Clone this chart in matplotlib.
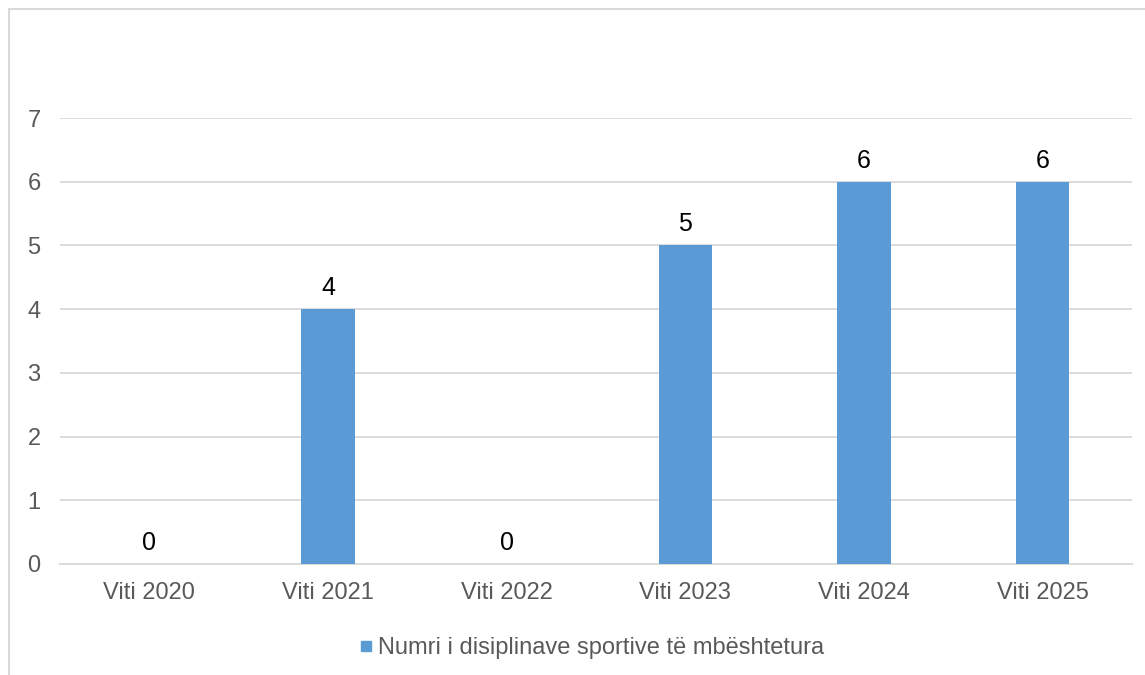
import matplotlib
matplotlib.use('Agg')
import matplotlib.pyplot as plt
from matplotlib.lines import Line2D
from matplotlib.patches import Rectangle

plt.rcParams['font.family'] = ['Liberation Sans', 'DejaVu Sans']

years = ['Viti 2020', 'Viti 2021', 'Viti 2022', 'Viti 2023', 'Viti 2024', 'Viti 2025']
counts = [0, 4, 0, 5, 6, 6]
series_name = 'Numri i disiplinave sportive të mbështetura'

bar_color = '#5b9bd5'
grid_color = '#d9d9d9'
text_gray = '#595959'
fs = 17

fig = plt.figure(figsize=(11.45, 6.75), dpi=100)
ax = fig.add_axes([60 / 1145, 1 - 564 / 675, (1132 - 60) / 1145, (564 - 118) / 675])

x = range(len(years))
bars = ax.bar(x, counts, width=0.30, color=bar_color, zorder=3)

for xi, v in zip(x, counts):
    ax.annotate(str(v), (xi, v), xytext=(0, 6.5), textcoords='offset points',
                ha='center', va='bottom', fontsize=18, color='black')

ax.set_xlim(-0.5, len(years) - 0.5)
ax.set_ylim(0, 7)
ax.set_yticks(range(8))
ax.set_xticks(list(x))
ax.set_xticklabels(years)
ax.yaxis.grid(True, color=grid_color, linewidth=1.3, zorder=0)
ax.tick_params(axis='both', length=0, labelsize=fs, labelcolor=text_gray)
ax.tick_params(axis='y', pad=14)
ax.tick_params(axis='x', pad=13)
for side in ['left', 'right', 'top']:
    ax.spines[side].set_visible(False)
ax.spines['bottom'].set_color(grid_color)
ax.spines['bottom'].set_linewidth(1.3)

handle = Line2D([], [], marker='s', linestyle='none', markersize=7,
                markerfacecolor=bar_color, markeredgecolor=bar_color)
fig.legend([handle], [series_name], loc='center', bbox_to_anchor=(590 / 1145, 1 - 648 / 675),
           frameon=False, fontsize=fs, labelcolor=text_gray, handletextpad=0.1,
           handlelength=0.8)

# outer chart border (cut off on the right and bottom)
fig.patches.append(Rectangle((9 / 1145, -0.2), 2, 1.2 - 9 / 675, transform=fig.transFigure,
                             fill=False, edgecolor=grid_color, linewidth=1.5))

fig.savefig('out.png', dpi=100)
